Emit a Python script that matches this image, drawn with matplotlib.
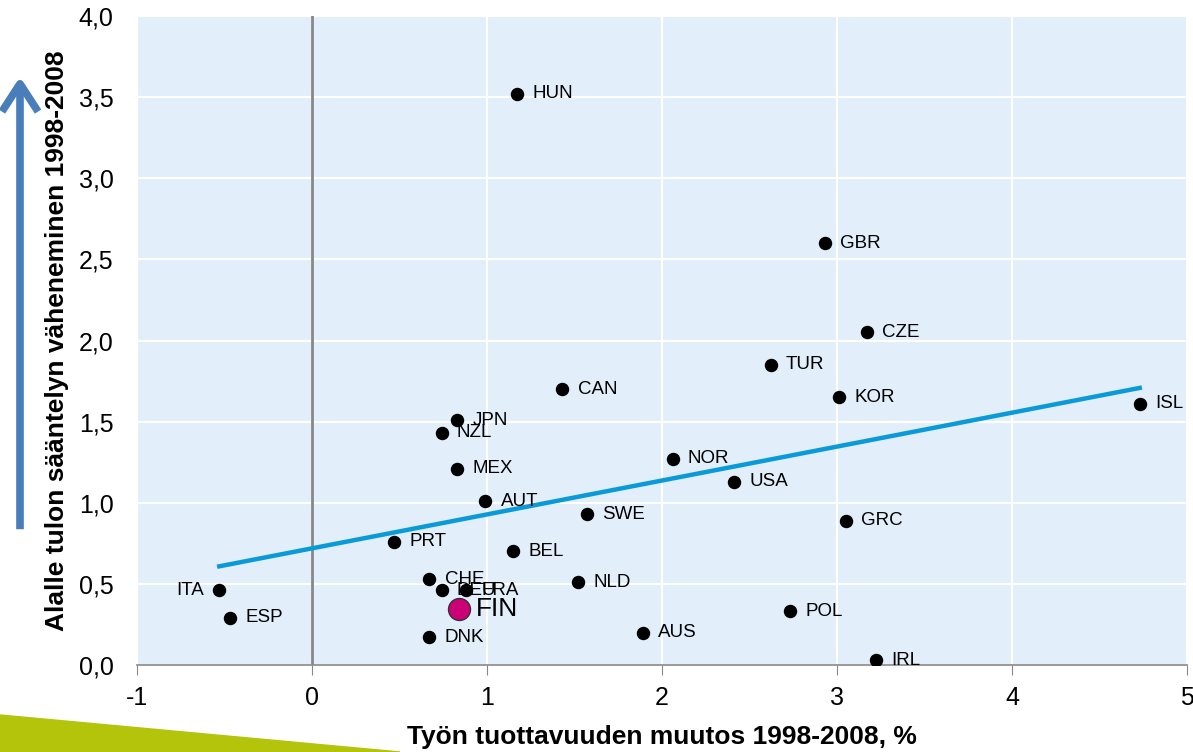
import numpy as np
import matplotlib
matplotlib.use("Agg")
import matplotlib.pyplot as plt
from matplotlib.patches import Polygon, FancyArrowPatch

plt.rcParams['font.family'] = ['Liberation Sans', 'DejaVu Sans']
plt.rcParams['axes.unicode_minus'] = False

# data
countries = ["HUN", "GBR", "CZE", "TUR", "CAN", "KOR", "ISL", "JPN", "NZL", "MEX",
             "NOR", "USA", "AUT", "SWE", "GRC", "PRT", "BEL", "CHE", "DEU", "FRA",
             "NLD", "ITA", "ESP", "POL", "AUS", "DNK", "IRL"]
productivity = [1.17, 2.93, 3.17, 2.62, 1.43, 3.01, 4.73, 0.83, 0.74, 0.83,
                2.06, 2.41, 0.99, 1.57, 3.05, 0.47, 1.15, 0.67, 0.74, 0.88,
                1.52, -0.53, -0.47, 2.73, 1.89, 0.67, 3.22]
deregulation = [3.52, 2.60, 2.05, 1.85, 1.70, 1.65, 1.61, 1.51, 1.43, 1.21,
                1.27, 1.13, 1.01, 0.93, 0.89, 0.76, 0.70, 0.53, 0.46, 0.46,
                0.51, 0.46, 0.29, 0.33, 0.20, 0.17, 0.03]
fin_x, fin_y = 0.84, 0.345

fig = plt.figure(figsize=(11.93, 7.52), dpi=100)
ax = fig.add_axes([137/1193, 1-665/752, 1050/1193, 649/752])
ax.set_facecolor("#e2effb")

ax.set_xlim(-1, 5)
ax.set_ylim(0, 4)
ax.set_xticks(range(-1, 6))
ax.set_yticks(np.arange(0, 4.01, 0.5))
ax.set_yticklabels([f"{v:.1f}".replace(".", ",") for v in np.arange(0, 4.01, 0.5)])
ax.grid(True, color="white", lw=1.5)
ax.set_axisbelow(True)
for s in ["top", "right", "left"]:
    ax.spines[s].set_visible(False)
ax.spines["bottom"].set_color("#888888")
ax.spines["bottom"].set_linewidth(1.2)
ax.tick_params(axis="x", direction="out", length=7, color="#888888", labelsize=18, pad=8)
ax.tick_params(axis="y", length=0, labelsize=18, pad=17)

ax.axvline(0, color="#888888", lw=2, zorder=2)

# trend line over all countries incl. Finland
allx = np.array(productivity + [fin_x])
ally = np.array(deregulation + [fin_y])
k, b = np.polyfit(allx, ally, 1)
xx = np.array([allx.min(), allx.max()])
ax.plot(xx, k*xx + b, color="#0b9ad8", lw=3.2, zorder=3)

ax.scatter(productivity, deregulation, s=75, color="black", zorder=4)
for c, x, y in zip(countries, productivity, deregulation):
    if c == "ITA":
        ax.annotate(c, (x, y), xytext=(-11, 0), textcoords="offset points",
                    ha="right", va="center", fontsize=13.5)
    else:
        ax.annotate(c, (x, y), xytext=(11, 0), textcoords="offset points",
                    ha="left", va="center", fontsize=13.5, zorder=5)

ax.scatter([fin_x], [fin_y], s=250, color="#cc0077", edgecolor="#333333", lw=1, zorder=5)
ax.annotate("FIN", (fin_x, fin_y), xytext=(12, 0), textcoords="offset points",
            ha="left", va="center", fontsize=19, zorder=5)

ax.set_xlabel("Työn tuottavuuden muutos 1998-2008, %", fontsize=19, fontweight="bold")
ax.xaxis.set_label_coords(0.5, -0.093)
ax.set_ylabel("Alalle tulon sääntelyn väheneminen 1998-2008", fontsize=19, fontweight="bold")
ax.yaxis.set_label_coords(-0.065, 0.5)

# decorations
fig.add_artist(Polygon([[0, 1-715/752], [400/1193, 0], [0, 0]], closed=True,
                       transform=fig.transFigure, color="#b3c40b", zorder=0))
fig.add_artist(FancyArrowPatch(
    (20/1193, 1-532/752), (20/1193, 1-74/752), transform=fig.transFigure,
    arrowstyle="->,head_length=20,head_width=13", color="#4a7ebb", lw=5.5,
    mutation_scale=1, capstyle="butt", joinstyle="round"))

fig.savefig("out.png", dpi=100)
